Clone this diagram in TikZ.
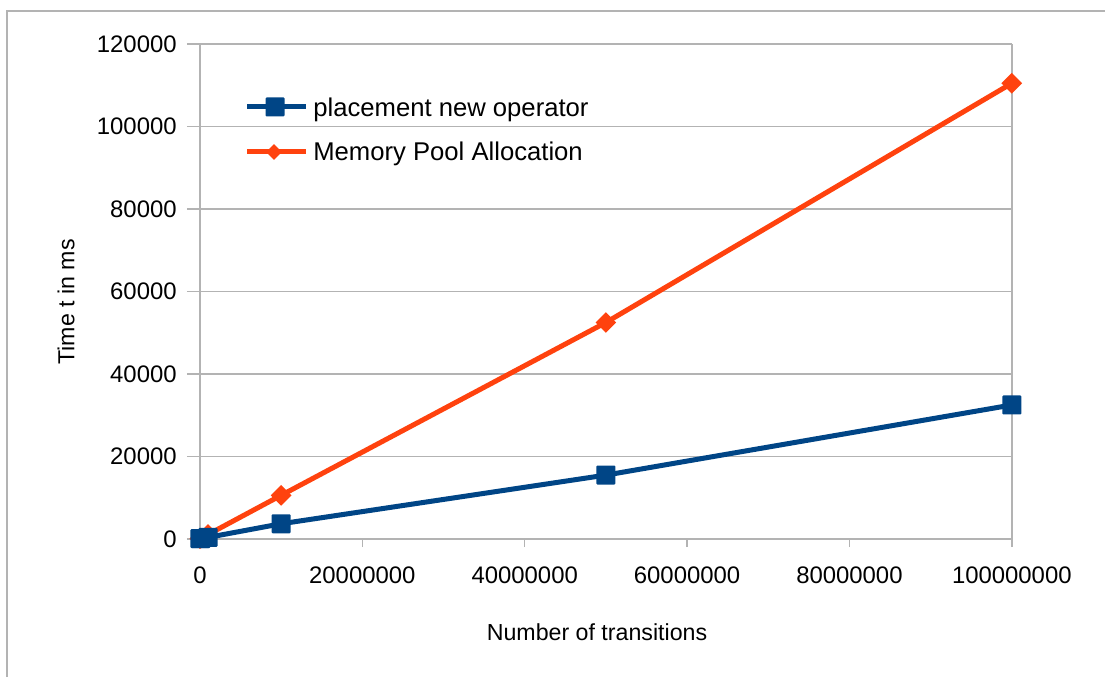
\documentclass[tikz,border=0pt]{standalone}
\usepackage{fontspec}
\setmainfont{Liberation Sans}
\usetikzlibrary{shapes.geometric}

\definecolor{seriesA}{HTML}{004586}
\definecolor{seriesB}{HTML}{FF420E}
\definecolor{gridgray}{HTML}{B3B3B3}

\tikzset{
  grid line/.style={gridgray, line width=0.03cm},
  tick label/.style={font=\fontsize{13.6}{16}\selectfont, inner sep=0pt},
  axis title/.style={font=\fontsize{13.2}{16}\selectfont, inner sep=0pt},
  legend text/.style={font=\fontsize{14.6}{17}\selectfont, inner sep=0pt},
  sq mark/.style={rectangle, fill=seriesA, minimum size=0.38cm, inner sep=0pt, rounded corners=0.02cm},
  dia mark/.style={diamond, fill=seriesB, minimum size=0.42cm, inner sep=0pt},
  series a/.style={seriesA, line width=0.1cm, line join=round},
  series b/.style={seriesB, line width=0.1cm, line join=round},
}

\begin{document}
\begin{tikzpicture}[x=0.02cm, y=0.02cm]
\path[use as bounding box] (0,0) rectangle (1105,677);

% frame
\draw[gridgray, line width=0.03cm] (7,0) -- (7,666) -- (1105,666);

% plot area, x in millions, y in thousands
\begin{scope}[xshift=4cm, yshift=2.76cm, x=0.1624cm, y=0.0825cm]
\foreach \y/\lab in {0/0, 20/20000, 40/40000, 60/60000, 80/80000, 100/100000, 120/120000} {
  \draw[grid line] (-1.6,\y) -- (100,\y);
  \node[tick label, anchor=east] (yl\y) at (-2.83,\y) {\lab};
}
\draw[grid line] (0,-1.94) -- (0,120);
\draw[grid line] (100,-1.94) -- (100,120);
\foreach \x in {20,40,60,80}
  \draw[grid line] (\x,-1.94) -- (\x,0);
\foreach \x/\lab in {0/0, 20/20000000, 40/40000000, 60/60000000, 80/80000000, 100/100000000}
  \node[tick label] (xl\x) at (\x,-8.73) {\lab};

% Memory Pool Allocation
\foreach \n/\px/\py in {1/0/0.1, 2/0.1/0.2, 3/1/1.1, 4/10/10.6, 5/50/52.5, 6/100/110.5}
  \coordinate (b\n) at (\px,\py);
\draw[series b] (b1) -- (b2) -- (b3) -- (b4) -- (b5) -- (b6);
\foreach \n in {1,...,6}
  \node[dia mark] (mb\n) at (b\n) {};

% placement new operator
\foreach \n/\px/\py in {1/0/0.1, 2/0.1/0.1, 3/1/0.4, 4/10/3.7, 5/50/15.5, 6/100/32.5}
  \coordinate (a\n) at (\px,\py);
\draw[series a] (a1) -- (a2) -- (a3) -- (a4) -- (a5) -- (a6);
\foreach \n in {1,...,6}
  \node[sq mark] (ma\n) at (a\n) {};
\end{scope}

% axis titles
\node[axis title, rotate=90] (ytitle) at (66,375) {Time t in ms};
\node[axis title] (xtitle) at (597,45) {Number of transitions};

% legend
\coordinate (la1) at (247,570);
\coordinate (la2) at (306,570);
\draw[series a] (la1) -- (la2);
\node[sq mark] (lma) at (275,570) {};
\node[legend text, anchor=base west] (lta) at (313,560) {placement new operator};

\coordinate (lb1) at (247,525);
\coordinate (lb2) at (306,525);
\draw[series b] (lb1) -- (lb2);
\node[dia mark, minimum size=0.32cm] (lmb) at (274,525) {};
\node[legend text, anchor=base west] (ltb) at (313,516) {Memory Pool Allocation};
\end{tikzpicture}
\end{document}
